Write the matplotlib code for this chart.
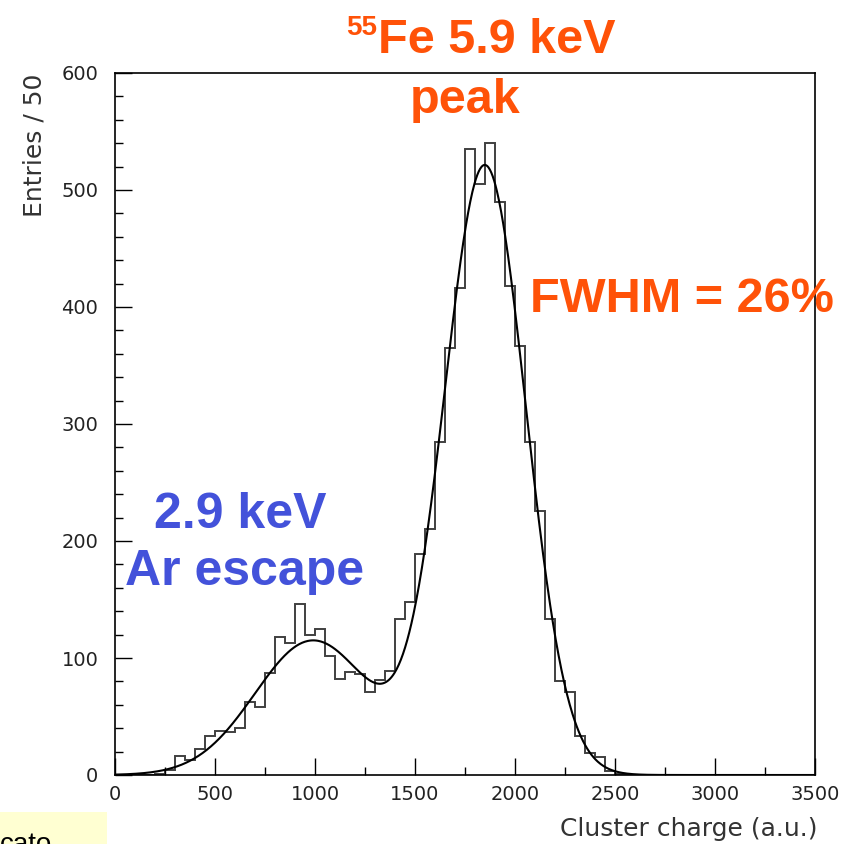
# Fe-55 cluster charge spectrum with double-Gaussian fit
import numpy as np
import matplotlib.pyplot as plt
from matplotlib.patches import Rectangle

W, H = 848, 844

# histogram: 50-unit bins starting at 0
bin_width = 50
counts = [0, 0, 0, 0, 1, 4, 16, 13, 22, 33,
          38, 37, 40, 62, 58, 87, 118, 113, 146, 120,
          125, 102, 82, 88, 86, 71, 81, 89, 133, 148,
          189, 210, 285, 365, 416, 535, 505, 540, 490, 418,
          367, 285, 226, 133, 80, 71, 33, 19, 15, 3,
          1, 0]

# fit result: escape peak + main peak
fit_amp = [115, 520]
fit_mean = [990, 1850]
fit_sigma = [290, 204]

x_ticks = [0, 500, 1000, 1500, 2000, 2500, 3000, 3500]
y_ticks = [0, 100, 200, 300, 400, 500, 600]

orange = '#FF5208'
blue = '#4352DA'


def px(x, y):
    # pixel position (from top-left) -> figure fraction
    return x / W, 1 - y / H


fig = plt.figure(figsize=(W / 100, H / 100), dpi=100)
fig.patch.set_facecolor('white')
ax = fig.add_axes([115 / W, 1 - 775 / H, 700 / W, 702 / H])

edges = np.arange(len(counts) + 1) * bin_width
ax.stairs(counts, edges, color='#404040', lw=1.4)

xf = np.linspace(0, 3500, 1000)
yf = np.zeros_like(xf)
for a, m, s in zip(fit_amp, fit_mean, fit_sigma):
    yf += a * np.exp(-0.5 * ((xf - m) / s) ** 2)
ax.plot(xf, yf, color='black', lw=1.5)

ax.set_xlim(0, 3500)
ax.set_ylim(0, 600)
ax.set_xticks(x_ticks)
ax.set_xticks(np.arange(250, 3500, 500), minor=True)
ax.set_yticks(y_ticks)
ax.set_yticks(np.arange(20, 600, 20), minor=True)
ax.tick_params(direction='in', which='both', top=False, right=False,
               labelsize=14, labelcolor='#222222', width=1.0)
ax.tick_params(axis='x', which='major', length=12, pad=7)
ax.tick_params(axis='x', which='minor', length=6)
ax.tick_params(axis='y', which='major', length=12, pad=12)
ax.tick_params(axis='y', which='minor', length=6)
for sp in ax.spines.values():
    sp.set_linewidth(1.2)

# axis titles, ROOT-style at the axis ends
fig.text(*px(34, 74), 'Entries / 50', rotation=90, ha='center', va='top',
         fontsize=18, color='#333333')
fig.text(*px(818, 829), 'Cluster charge (a.u.)', ha='right', va='center',
         fontsize=18, color='#333333')

# annotations
big = dict(family='Liberation Sans', fontweight='bold')
fig.text(*px(346, 35), '55', color=orange, fontsize=20, va='baseline', **big)
fig.text(*px(378, 53), 'Fe 5.9 keV', color=orange, fontsize=35, va='baseline', **big)
fig.text(*px(465, 113), 'peak', color=orange, fontsize=35, ha='center', va='baseline', **big)
fig.text(*px(530, 312), 'FWHM = 26%', color=orange, fontsize=35, va='baseline', **big)
fig.text(*px(240, 528), '2.9 keV', color=blue, fontsize=36, ha='center', va='baseline', **big)
fig.text(*px(245, 585), 'Ar escape', color=blue, fontsize=36, ha='center', va='baseline', **big)

# slide note box, cut at the bottom edge
fig.patches.append(Rectangle(px(0, 844), 107 / W, 32 / H, transform=fig.transFigure,
                             facecolor='#FFFFD2', edgecolor='none', zorder=0))
fig.text(*px(0, 852), 'cato', color='black', fontsize=20, va='baseline',
         family='Liberation Sans')

fig.savefig('out.png', dpi=100)
